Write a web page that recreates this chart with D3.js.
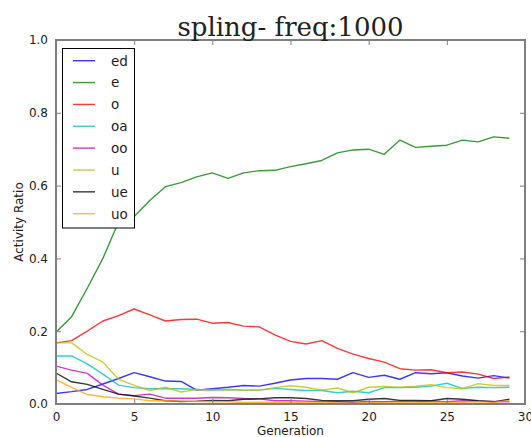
<!DOCTYPE html>
<html>
<head>
<meta charset="utf-8">
<script src="https://cdn.jsdelivr.net/npm/d3@7"></script>
<style>
  html, body { margin: 0; padding: 0; background: #fff; }
  svg { display: block; }
  text { font-family: "DejaVu Sans", sans-serif; fill: #222; }
</style>
</head>
<body>
<svg id="chart" width="531" height="437"></svg>
<script>
// Activity ratio per generation for each vowel group
const generations = d3.range(0, 30);
const seriesNames = ["ed", "e", "o", "oa", "oo", "u", "ue", "uo"];
const seriesColors = ["#0000ff", "#008000", "#ff0000", "#00bfbf", "#bf00bf", "#bfbf00", "#000000", "#ffa500"];

const ed = [0.029, 0.034, 0.040, 0.055, 0.070, 0.086, 0.075, 0.063, 0.062, 0.038,
            0.042, 0.046, 0.051, 0.049, 0.057, 0.066, 0.070, 0.070, 0.068, 0.086,
            0.073, 0.079, 0.068, 0.086, 0.083, 0.086, 0.077, 0.071, 0.078, 0.071];
const e  = [0.197, 0.240, 0.318, 0.400, 0.500, 0.515, 0.559, 0.597, 0.608, 0.624,
            0.635, 0.620, 0.635, 0.641, 0.642, 0.652, 0.660, 0.669, 0.690, 0.698,
            0.700, 0.686, 0.725, 0.705, 0.708, 0.711, 0.725, 0.720, 0.734, 0.730];
const o  = [0.168, 0.174, 0.200, 0.228, 0.243, 0.261, 0.245, 0.228, 0.232, 0.233,
            0.222, 0.224, 0.214, 0.212, 0.190, 0.172, 0.165, 0.174, 0.153, 0.137,
            0.125, 0.115, 0.097, 0.093, 0.094, 0.086, 0.088, 0.082, 0.070, 0.074];
const oa = [0.132, 0.132, 0.110, 0.082, 0.052, 0.045, 0.042, 0.042, 0.042, 0.040,
            0.038, 0.040, 0.038, 0.038, 0.043, 0.040, 0.037, 0.037, 0.031, 0.035,
            0.031, 0.045, 0.045, 0.046, 0.049, 0.057, 0.043, 0.046, 0.045, 0.046];
const oo = [0.104, 0.093, 0.084, 0.052, 0.027, 0.023, 0.027, 0.016, 0.016, 0.016,
            0.018, 0.017, 0.015, 0.014, 0.009, 0.009, 0.008, 0.007, 0.006, 0.005,
            0.007, 0.006, 0.008, 0.007, 0.008, 0.006, 0.009, 0.008, 0.007, 0.006];
const u  = [0.168, 0.168, 0.136, 0.115, 0.068, 0.051, 0.037, 0.046, 0.033, 0.040,
            0.038, 0.040, 0.038, 0.038, 0.045, 0.050, 0.046, 0.038, 0.044, 0.031,
            0.046, 0.048, 0.046, 0.049, 0.053, 0.045, 0.042, 0.056, 0.051, 0.051];
const ue = [0.085, 0.061, 0.054, 0.040, 0.027, 0.022, 0.016, 0.009, 0.007, 0.008,
            0.010, 0.009, 0.013, 0.014, 0.017, 0.017, 0.015, 0.010, 0.009, 0.009,
            0.013, 0.015, 0.010, 0.010, 0.009, 0.015, 0.013, 0.009, 0.006, 0.013];
const uo = [0.067, 0.046, 0.026, 0.020, 0.016, 0.014, 0.009, 0.009, 0.008, 0.007,
            0.006, 0.006, 0.004, 0.005, 0.004, 0.004, 0.004, 0.004, 0.003, 0.002,
            0.004, 0.003, 0.004, 0.003, 0.005, 0.004, 0.005, 0.006, 0.005, 0.009];

const xTicks = [0, 5, 10, 15, 20, 25, 30];
const yTicks = [0.0, 0.2, 0.4, 0.6, 0.8, 1.0];

const seriesValues = [ed, e, o, oa, oo, u, ue, uo];
const series = seriesNames.map((name, i) => ({
  name, color: seriesColors[i],
  points: generations.map((g, j) => [g, seriesValues[i][j]])
}));

const svg = d3.select("#chart");
const x = d3.scaleLinear().domain([0, 30]).range([56, 525]);
const y = d3.scaleLinear().domain([0, 1]).range([404, 40]);

// data lines (clipped to the axes box)
svg.append("clipPath").attr("id", "plotclip")
  .append("rect").attr("x", x(0)).attr("y", y(1))
  .attr("width", x(30) - x(0)).attr("height", y(0) - y(1));

const line = d3.line().x(d => x(d[0])).y(d => y(d[1]));
svg.append("g").attr("clip-path", "url(#plotclip)")
  .selectAll("path").data(series).join("path")
  .attr("d", d => line(d.points))
  .attr("fill", "none")
  .attr("stroke", d => d.color)
  .attr("stroke-opacity", 0.78)
  .attr("stroke-width", 1.4)
  .attr("stroke-linejoin", "round");

// axes: ticks pointing inwards on all four sides
const spine = "#7f7f7f";
const fmtY = d3.format(".1f");

const axB = svg.append("g").attr("transform", `translate(0,${y(0)})`)
  .call(d3.axisBottom(x).tickValues(xTicks).tickFormat(d3.format("d")).tickSizeInner(-5).tickSizeOuter(0).tickPadding(8));
const axT = svg.append("g").attr("transform", `translate(0,${y(1)})`)
  .call(d3.axisTop(x).tickValues(xTicks).tickFormat("").tickSizeInner(-5).tickSizeOuter(0));
const axL = svg.append("g").attr("transform", `translate(${x(0)},0)`)
  .call(d3.axisLeft(y).tickValues(yTicks).tickFormat(fmtY).tickSizeInner(-5).tickSizeOuter(0).tickPadding(8));
const axR = svg.append("g").attr("transform", `translate(${x(30)},0)`)
  .call(d3.axisRight(y).tickValues(yTicks).tickFormat("").tickSizeInner(-5).tickSizeOuter(0));

[axB, axT, axL, axR].forEach(ax => {
  ax.select(".domain").remove();
  ax.selectAll(".tick line").attr("stroke", spine).attr("stroke-width", 1);
  ax.selectAll(".tick text").attr("font-size", 12).attr("fill", "#222")
    .attr("font-family", "DejaVu Sans, sans-serif");
});

svg.append("rect")
  .attr("x", x(0)).attr("y", y(1))
  .attr("width", x(30) - x(0)).attr("height", y(0) - y(1))
  .attr("fill", "none").attr("stroke", spine).attr("stroke-width", 2);

// title and axis labels
svg.append("text")
  .attr("x", (x(0) + x(30)) / 2).attr("y", 36)
  .attr("text-anchor", "middle")
  .style("font-family", "'DejaVu Serif', serif")
  .attr("font-size", 26).attr("fill", "#000")
  .text("spling- freq:1000");

svg.append("text")
  .attr("x", (x(0) + x(30)) / 2).attr("y", 435)
  .attr("text-anchor", "middle").attr("font-size", 12)
  .text("Generation");

svg.append("text")
  .attr("transform", `translate(23,${(y(0) + y(1)) / 2}) rotate(-90)`)
  .attr("text-anchor", "middle").attr("font-size", 12)
  .text("Activity Ratio");

// legend
const legendRow = d3.scalePoint().domain(seriesNames).range([60.7, 213.7]);
const legend = svg.append("g");
legend.append("rect")
  .attr("x", 62.5).attr("y", 48.5).attr("width", 72).attr("height", 179.5)
  .attr("fill", "#fff").attr("stroke", "#000").attr("stroke-width", 1);
const rows = legend.selectAll("g.row").data(series).join("g")
  .attr("class", "row")
  .attr("transform", d => `translate(0,${legendRow(d.name)})`);
rows.append("line")
  .attr("x1", 73).attr("x2", 95)
  .attr("stroke", d => d.color).attr("stroke-opacity", 0.78).attr("stroke-width", 1.4);
rows.append("text")
  .attr("x", 111).attr("dy", "0.36em")
  .attr("font-size", 13.5).attr("fill", "#000")
  .text(d => d.name);
</script>
</body>
</html>
